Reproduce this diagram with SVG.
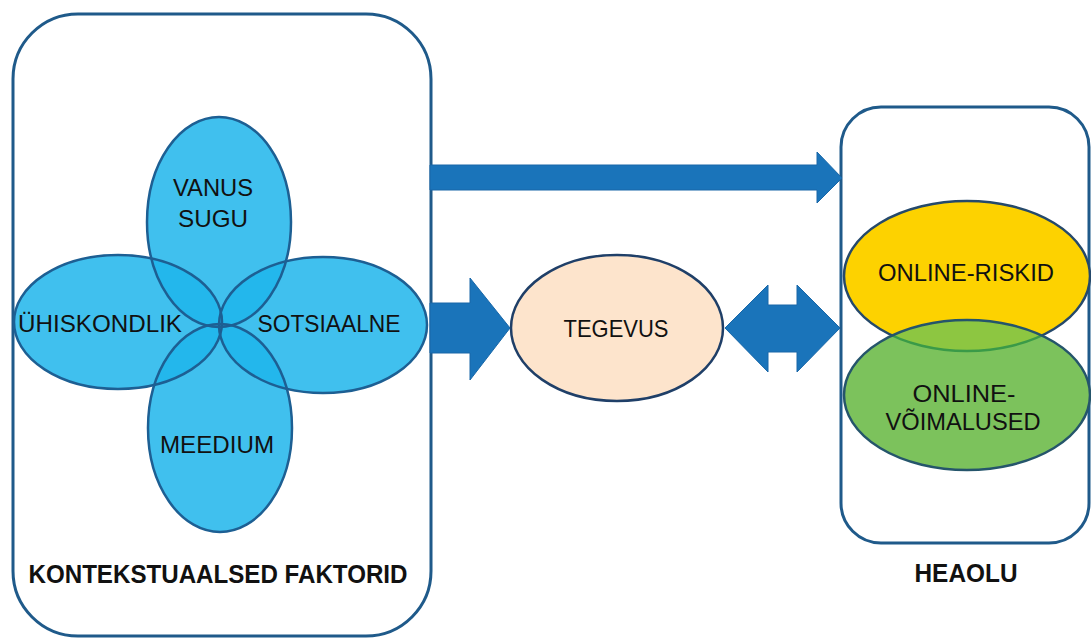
<svg xmlns="http://www.w3.org/2000/svg" width="1091" height="639" viewBox="0 0 1091 639">
<style>
.box{fill:#ffffff;stroke:#1f5a8a;stroke-width:3}
.petal{fill:#1fb5eb;fill-opacity:0.85;stroke:none}
.outline{fill:none;stroke:#1d5f93;stroke-width:2.5}
.arrow{fill:#1a74ba;stroke:#1867a8;stroke-width:1}
.lbl{font-family:"Liberation Sans",Arial,sans-serif;font-size:24px;fill:#111111;text-anchor:middle}
.title{font-family:"Liberation Sans",Arial,sans-serif;font-size:25px;font-weight:bold;fill:#111111;text-anchor:middle}
</style>
<defs>
<clipPath id="greenClip"><ellipse cx="967" cy="395" rx="123" ry="75"/></clipPath>
</defs>
<rect width="1091" height="639" fill="#ffffff"/>
<g id="kontekstuaalsed-faktorid">
<rect class="box" x="13" y="14" width="418" height="622" rx="65" ry="65"/>
<text class="title" x="218" y="583" textLength="379" lengthAdjust="spacingAndGlyphs">KONTEKSTUAALSED FAKTORID</text>
</g>
<g id="heaolu">
<rect class="box" x="841" y="107" width="248" height="436" rx="40" ry="40"/>
<text class="title" x="966" y="582" textLength="103" lengthAdjust="spacingAndGlyphs">HEAOLU</text>
</g>
<g id="uhiskondlik">
<ellipse class="petal" cx="118" cy="322" rx="104" ry="67"/>
</g>
<g id="sotsiaalne">
<ellipse class="petal" cx="323" cy="325" rx="104" ry="68"/>
</g>
<g id="vanus-sugu">
<ellipse class="petal" cx="219" cy="222" rx="72" ry="105"/>
</g>
<g id="meedium">
<ellipse class="petal" cx="220" cy="428" rx="72" ry="104"/>
</g>
<g id="petal-outlines">
<ellipse class="outline" cx="118" cy="322" rx="104" ry="67"/>
<ellipse class="outline" cx="323" cy="325" rx="104" ry="68"/>
<ellipse class="outline" cx="219" cy="222" rx="72" ry="105"/>
<ellipse class="outline" cx="220" cy="428" rx="72" ry="104"/>
</g>
<g id="petal-labels">
<text class="lbl" x="213" y="196" textLength="80" lengthAdjust="spacingAndGlyphs">VANUS</text>
<text class="lbl" x="213" y="227" textLength="70" lengthAdjust="spacingAndGlyphs">SUGU</text>
<text class="lbl" x="100" y="332" textLength="164" lengthAdjust="spacingAndGlyphs">ÜHISKONDLIK</text>
<text class="lbl" x="329" y="332" textLength="143" lengthAdjust="spacingAndGlyphs">SOTSIAALNE</text>
<text class="lbl" x="217" y="453" textLength="114" lengthAdjust="spacingAndGlyphs">MEEDIUM</text>
</g>
<g id="tegevus">
<ellipse cx="617" cy="328" rx="106" ry="73" fill="#fde4cc" stroke="#1f3f68" stroke-width="2.5"/>
<text class="lbl" x="616" y="337" textLength="105" lengthAdjust="spacingAndGlyphs">TEGEVUS</text>
</g>
<g id="online-riskid">
<ellipse cx="967" cy="276" rx="123" ry="75" fill="#fdd200" stroke="#25496b" stroke-width="2.5"/>
<text class="lbl" x="966" y="281" textLength="176" lengthAdjust="spacingAndGlyphs">ONLINE-RISKID</text>
</g>
<g id="online-voimalused">
<ellipse cx="967" cy="395" rx="123" ry="75" fill="#7cc25c"/>
<ellipse cx="967" cy="276" rx="123" ry="75" fill="#8dc641" stroke="#3a9a48" stroke-width="2.5" clip-path="url(#greenClip)"/>
<ellipse cx="967" cy="395" rx="123" ry="75" fill="none" stroke="#25556b" stroke-width="2.5"/>
<text class="lbl" x="964" y="402" textLength="103" lengthAdjust="spacingAndGlyphs">ONLINE-</text>
<text class="lbl" x="963" y="430" textLength="155" lengthAdjust="spacingAndGlyphs">VÕIMALUSED</text>
</g>
<g id="connectors">
<polygon class="arrow" points="430,165 817,165 817,152 842,178 817,203 817,190 430,190"/>
<polygon class="arrow" points="430,303 470,303 470,278 510,328 470,380 470,353 430,353"/>
<polygon class="arrow" points="725,328 768,285 768,305 797,305 797,285 840,328 797,372 797,352 768,352 768,372"/>
</g>
</svg>
